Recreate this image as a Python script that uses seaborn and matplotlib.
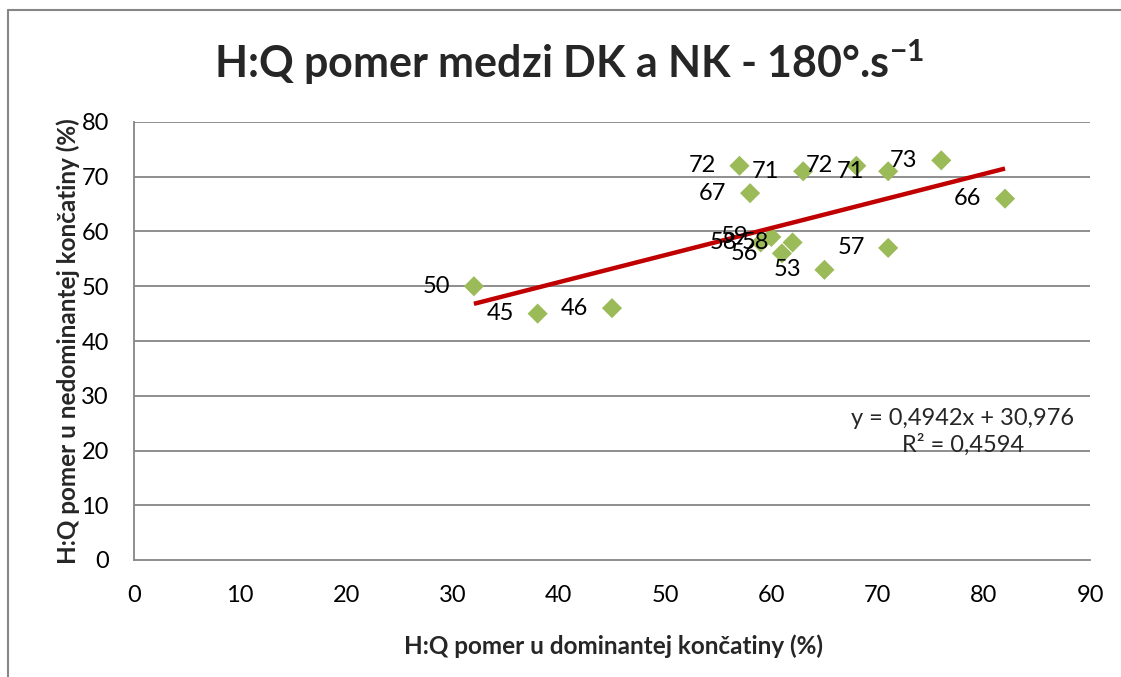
import numpy as np
import pandas as pd
import seaborn as sns
import matplotlib.pyplot as plt
from matplotlib.lines import Line2D

# H:Q pomer - dominantna (x) vs nedominantna (y) koncatina
dk = [32, 38, 45, 57, 58, 63, 68, 71, 76, 82, 71, 65, 60, 62, 61, 59]
nk = [50, 45, 46, 72, 67, 71, 72, 71, 73, 66, 57, 53, 59, 58, 56, 58]

slope = 0.4942
intercept = 30.976
r2_text = "0,4594"

x_ticks = list(range(0, 91, 10))
y_ticks = list(range(0, 81, 10))

df = pd.DataFrame({"dk": dk, "nk": nk})

sns.set_style("white")
plt.rcParams["font.family"] = ["Lato", "DejaVu Sans"]
plt.rcParams["mathtext.fontset"] = "custom"
plt.rcParams["mathtext.rm"] = "Lato:bold"
plt.rcParams["mathtext.bf"] = "Lato:bold"

fig = plt.figure(figsize=(11.21, 6.77), dpi=100)
ax = fig.add_axes([134 / 1121, 1 - 560 / 677, (1090 - 134) / 1121, (560 - 122) / 677])

# outer chart frame (cropped at right and bottom)
fig.add_artist(Line2D([8 / 1121, 8 / 1121], [0, 1 - 10 / 677], transform=fig.transFigure,
                      color="#868686", lw=1.5))
fig.add_artist(Line2D([8 / 1121, 1], [1 - 10 / 677, 1 - 10 / 677], transform=fig.transFigure,
                      color="#868686", lw=1.5))

for yv in y_ticks[1:]:
    ax.axhline(yv, color="#868686", lw=1.3, zorder=0)

xs = np.array([min(dk), max(dk)])
ax.plot(xs, slope * xs + intercept, color="#C00000", lw=3.2, zorder=3, solid_capstyle="butt")

sns.scatterplot(data=df, x="dk", y="nk", marker="D", color="#9BBB59", s=105,
                edgecolor="none", ax=ax, zorder=2)

for xv, yv in zip(dk, nk):
    ax.annotate(str(yv), (xv, yv), xytext=(-17, 0), textcoords="offset points",
                ha="right", va="center", fontsize=17, color="black", zorder=4)

ax.set_xlim(0, 90)
ax.set_ylim(0, 80)
ax.set_xticks(x_ticks)
ax.set_yticks(y_ticks)
ax.tick_params(axis="both", length=0, labelsize=17, colors="black")
ax.tick_params(axis="x", pad=18)
ax.tick_params(axis="y", pad=18)

for side in ["top", "right"]:
    ax.spines[side].set_visible(False)
for side in ["left", "bottom"]:
    ax.spines[side].set_color("#868686")
    ax.spines[side].set_linewidth(1.3)

ax.set_xlabel("H:Q pomer u dominantej končatiny (%)", fontsize=17.5, fontweight="bold")
ax.set_ylabel("H:Q pomer u nedominantej končatiny (%)", fontsize=17.5, fontweight="bold")
ax.xaxis.set_label_coords(0.502, (560 - 634) / 438)
ax.yaxis.set_label_coords((80 - 134) / 956, 0.5)

ax.text(0.867, 0.292, f"y = {slope:.4f}x + {intercept:.3f}".replace(".", ",") + f"\nR² = {r2_text}",
        transform=ax.transAxes, ha="center", va="center", fontsize=17, linespacing=1.25)

fig.text(569 / 1121, 1 - 62 / 677, r"H:Q pomer medzi DK a NK - 180°.s$^{\mathbf{-1}}$",
         ha="center", va="center", fontsize=31, fontweight="bold")

plt.savefig("out.png", dpi=100)
